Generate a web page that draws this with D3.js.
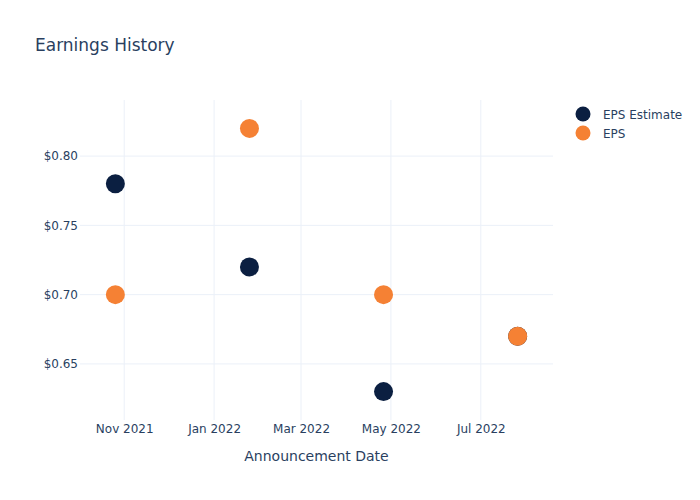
<!DOCTYPE html>
<html>
<head>
<meta charset="utf-8">
<script src="https://cdn.jsdelivr.net/npm/d3@7"></script>
<style>
  body { margin: 0; background: #fff; }
  svg { display: block; font-family: "DejaVu Sans", sans-serif; }
</style>
</head>
<body>
<svg id="chart" width="700" height="500"></svg>
<script>
const dates = ["2021-10-26", "2022-01-25", "2022-04-26", "2022-07-26"];
const epsEstimate = [0.78, 0.72, 0.63, 0.67];
const eps = [0.70, 0.82, 0.70, 0.67];
const seriesNames = ["EPS Estimate", "EPS"];
const seriesColors = ["#0b1f41", "#f58134"];
const yTicks = [0.65, 0.70, 0.75, 0.80];

const parse = d3.utcParse("%Y-%m-%d");
const svg = d3.select("#chart");
const W = 700, H = 500;
const m = { l: 80, r: 147, t: 100, b: 80 };
const textColor = "#2a3f5f";
const gridColor = "#ebf0f8";
const font = "'DejaVu Sans', sans-serif";

const x = d3.scaleUtc()
  .domain([parse("2021-10-02"), parse("2022-08-19")])
  .range([m.l, W - m.r]);
const y = d3.scaleLinear()
  .domain([0.6095, 0.8405])
  .range([H - m.b, m.t]);

// title
svg.append("text").attr("x", 35).attr("y", 51)
  .attr("fill", textColor).attr("font-size", 17)
  .text("Earnings History");

// grid
const xTicks = x.ticks(d3.utcMonth.every(2));
svg.append("g").selectAll("line").data(xTicks).join("line")
  .attr("x1", d => x(d)).attr("x2", d => x(d))
  .attr("y1", m.t).attr("y2", H - m.b)
  .attr("stroke", gridColor).attr("stroke-width", 1);
svg.append("g").selectAll("line").data(yTicks).join("line")
  .attr("x1", m.l).attr("x2", W - m.r)
  .attr("y1", d => y(d)).attr("y2", d => y(d))
  .attr("stroke", gridColor).attr("stroke-width", 1);

// axes
const xAxis = svg.append("g").attr("transform", `translate(0,${H - m.b})`)
  .call(d3.axisBottom(x).tickValues(xTicks).tickFormat(d3.utcFormat("%b %Y")).tickSize(0).tickPadding(4.5));
xAxis.select(".domain").remove();
xAxis.selectAll("text").attr("fill", textColor).attr("font-size", 12)
  .attr("font-family", font);

const yAxis = svg.append("g").attr("transform", `translate(${m.l},0)`)
  .call(d3.axisLeft(y).tickValues(yTicks).tickFormat(d => "$" + d3.format(".2f")(d)).tickSize(0).tickPadding(2));
yAxis.select(".domain").remove();
yAxis.selectAll("text").attr("fill", textColor).attr("font-size", 12)
  .attr("font-family", font);

svg.append("text").attr("x", (m.l + W - m.r) / 2).attr("y", 461)
  .attr("text-anchor", "middle").attr("fill", textColor).attr("font-size", 14)
  .text("Announcement Date");

// points
const series = [epsEstimate, eps];
series.forEach((vals, si) => {
  svg.append("g").selectAll("circle").data(vals).join("circle")
    .attr("cx", (d, i) => x(parse(dates[i])))
    .attr("cy", d => y(d))
    .attr("r", 9.5)
    .attr("fill", seriesColors[si]);
});

// legend
const lg = svg.append("g");
seriesNames.forEach((name, i) => {
  const yy = 114 + i * 19;
  lg.append("circle").attr("cx", 583).attr("cy", yy).attr("r", 7.5).attr("fill", seriesColors[i]);
  lg.append("text").attr("x", 603).attr("y", yy + 4.5).attr("fill", textColor)
    .attr("font-size", 12).text(name);
});
</script>
</body>
</html>
